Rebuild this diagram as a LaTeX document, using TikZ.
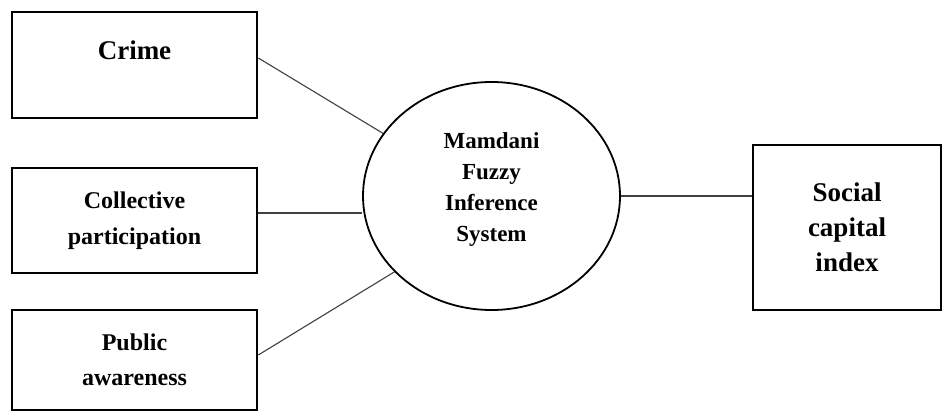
\documentclass[tikz,border=0pt]{standalone}
\usepackage{fontspec}
\setmainfont{Liberation Serif}
\usetikzlibrary{shapes.geometric,calc}
\tikzset{
  inbox/.style={draw=black, line width=2.6pt, minimum width=245pt, inner sep=0pt, align=center},
  fisshape/.style={draw=black, line width=1.8pt, ellipse, minimum width=257pt, minimum height=228pt, inner sep=0pt},
  conn/.style={draw=black!75, line width=1.1pt},
  lbl/.style={align=center, inner sep=0pt}
}
\begin{document}
\begin{tikzpicture}[x=1pt,y=-1pt]
\useasboundingbox (0,0) rectangle (946,412);
% input boxes
\node[inbox, minimum height=106pt] (crime) at (134.5,65) {};
\node[lbl, font=\bfseries\fontsize{27}{34}\selectfont] (crimetext) at (134.5,50) {Crime};
\node[inbox, minimum height=105pt, font=\bfseries\fontsize{24}{36}\selectfont] (coll) at (134.5,220.5) {Collective\\participation};
\node[inbox, minimum height=100pt, font=\bfseries\fontsize{24}{35}\selectfont] (pub) at (134.5,360) {Public\\awareness};
% fuzzy system
\node[fisshape] (fis) at (491.5,196) {};
\node[lbl, font=\bfseries\fontsize{23}{31}\selectfont] (fistext) at (491.5,190) {Mamdani\\Fuzzy\\Inference\\System};
% output
\node[draw=black, line width=2.6pt, minimum width=188pt, minimum height=165pt, inner sep=0pt, align=center,
      font=\bfseries\fontsize{27}{35}\selectfont] (social) at (847,227.5) {Social\\capital\\index};
% connectors
\draw[conn] ([yshift=7pt]crime.east) -- (fis.150);
\draw[conn] ([yshift=7.5pt]coll.east) -- ([yshift=7.5pt]coll.east -| fis.west);
\draw[conn] ([yshift=5pt]pub.east) -- (fis.218);
\draw[conn] (fis.east) -- (fis.east -| social.west);
\end{tikzpicture}
\end{document}
